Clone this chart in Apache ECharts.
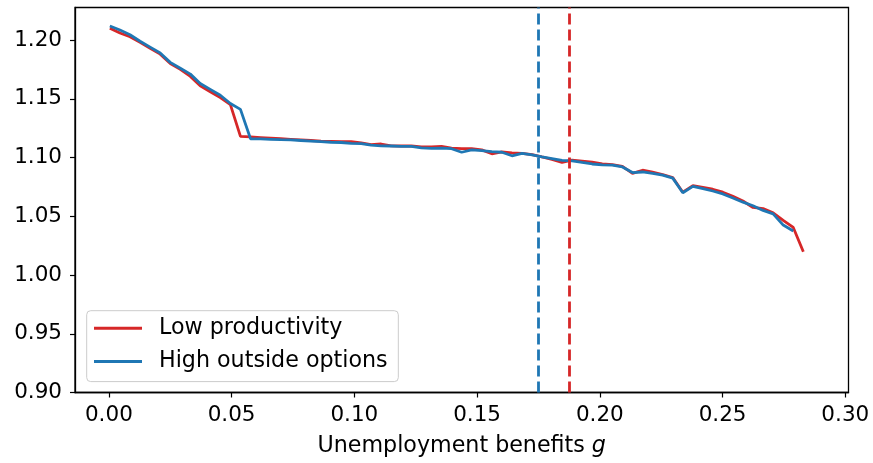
<!DOCTYPE html>
<html>
<head>
<meta charset="utf-8">
<script src="https://cdn.jsdelivr.net/npm/echarts@6/dist/echarts.min.js"></script>
<style>
  html, body { margin: 0; padding: 0; background: #fff; }
  #chart { width: 873px; height: 463px; }
</style>
</head>
<body>
<div id="chart"></div>
<script>
// Unemployment benefit levels g
const g = [
  0.0004, 0.0045, 0.0086, 0.0127, 0.0168, 0.0209, 0.0250, 0.0291, 0.0332, 0.0372,
  0.0413, 0.0454, 0.0495, 0.0536, 0.0577, 0.0618, 0.0659, 0.0700, 0.0741, 0.0782,
  0.0823, 0.0864, 0.0905, 0.0946, 0.0987, 0.1028, 0.1068, 0.1109, 0.1150, 0.1191,
  0.1232, 0.1273, 0.1314, 0.1355, 0.1396, 0.1437, 0.1478, 0.1519, 0.1560, 0.1601,
  0.1642, 0.1683, 0.1724, 0.1764, 0.1805, 0.1846, 0.1887, 0.1928, 0.1969, 0.2010,
  0.2051, 0.2092, 0.2133, 0.2174, 0.2215, 0.2256, 0.2297, 0.2338, 0.2379, 0.2420,
  0.2460, 0.2501, 0.2542, 0.2583, 0.2624, 0.2665, 0.2706, 0.2747, 0.2788, 0.2829
];

// Low productivity scenario
const lowProductivity = [
  1.2100, 1.2060, 1.2028, 1.1980, 1.1930, 1.1880, 1.1800, 1.1750, 1.1690, 1.1610,
  1.1560, 1.1510, 1.1450, 1.1180, 1.1175, 1.1170, 1.1165, 1.1160, 1.1155, 1.1150,
  1.1145, 1.1140, 1.1138, 1.1135, 1.1135, 1.1125, 1.1110, 1.1115, 1.1100, 1.1098,
  1.1098, 1.1090, 1.1090, 1.1095, 1.1080, 1.1075, 1.1075, 1.1065, 1.1032, 1.1048,
  1.1040, 1.1035, 1.1025, 1.1005, 1.0985, 1.0958, 1.0978, 1.0970, 1.0960, 1.0945,
  1.0940, 1.0925, 1.0865, 1.0892, 1.0875, 1.0855, 1.0830, 1.0705, 1.0760, 1.0745,
  1.0730, 1.0705, 1.0670, 1.0630, 1.0575, 1.0565, 1.0530, 1.0465, 1.0405, 1.0198
];

// High outside options scenario
const highOutsideOptions = [
  1.2120, 1.2085, 1.2045, 1.1990, 1.1940, 1.1890, 1.1810, 1.1760, 1.1710, 1.1630,
  1.1580, 1.1530, 1.1460, 1.1410, 1.1160, 1.1158, 1.1155, 1.1152, 1.1150, 1.1145,
  1.1140, 1.1135, 1.1130, 1.1128, 1.1120, 1.1118, 1.1105, 1.1100, 1.1098, 1.1095,
  1.1095, 1.1082, 1.1078, 1.1080, 1.1075, 1.1045, 1.1065, 1.1058, 1.1050, 1.1045,
  1.1015, 1.1036, 1.1022, 1.1005, 1.0990, 1.0975, 1.0972, 1.0958, 1.0945, 1.0938,
  1.0935, 1.0920, 1.0872, 1.0877, 1.0865, 1.0850, 1.0825, 1.0700, 1.0755, 1.0735,
  1.0715, 1.0690, 1.0655, 1.0620, 1.0590, 1.0550, 1.0520, 1.0425, 1.0375
];

// Threshold benefit levels (dashed verticals)
const thresholdHighOutside = 0.175;
const thresholdLowProductivity = 0.1875;

const xTicks = [0, 0.05, 0.10, 0.15, 0.20, 0.25, 0.30];
const yTicks = [0.90, 0.95, 1.00, 1.05, 1.10, 1.15, 1.20];

const RED = '#d62728';
const BLUE = '#1f77b4';
const FONT = 'DejaVu Sans';
const FS_TICK = 21.5;
const FS_TEXT = 22.2;

const toPairs = (xs, ys) => ys.map((y, i) => [xs[i], y]);

const chart = echarts.init(document.getElementById('chart'), null, { renderer: 'canvas' });

chart.setOption({
  animation: false,
  backgroundColor: '#fff',
  grid: {
    left: 75, top: 7.5, right: 24.5, bottom: 70.5,
    show: true, borderColor: '#000', borderWidth: 1.3, backgroundColor: 'transparent'
  },
  xAxis: {
    type: 'value',
    min: -0.0138, max: 0.3013,
    name: '{a|Unemployment benefits }{b|g}',
    nameLocation: 'middle',
    nameGap: 43,
    nameTextStyle: {
      rich: {
        a: { fontFamily: FONT, fontSize: FS_TEXT, color: '#000' },
        b: { fontFamily: FONT, fontSize: FS_TEXT, fontStyle: 'italic', color: '#000' }
      }
    },
    axisLine: { show: true, onZero: false, lineStyle: { color: '#000', width: 1.3 } },
    axisTick: { show: true, customValues: xTicks, length: 5, lineStyle: { color: '#000', width: 1.2 } },
    axisLabel: {
      customValues: xTicks,
      formatter: v => v.toFixed(2),
      fontFamily: FONT, fontSize: FS_TICK, color: '#000', margin: 12
    },
    splitLine: { show: false }
  },
  yAxis: {
    type: 'value',
    min: 0.9, max: 1.2277,
    axisLine: { show: true, onZero: false, lineStyle: { color: '#000', width: 1.3 } },
    axisTick: { show: true, customValues: yTicks, length: 5, lineStyle: { color: '#000', width: 1.2 } },
    axisLabel: {
      customValues: yTicks,
      formatter: v => v.toFixed(2),
      fontFamily: FONT, fontSize: FS_TICK, color: '#000', margin: 13
    },
    splitLine: { show: false }
  },
  legend: {
    orient: 'vertical',
    left: 86.7, top: 310.7,
    padding: [6.5, 10.7, 9, 7.3],
    itemWidth: 48, itemHeight: 3,
    itemGap: 11.4,
    backgroundColor: 'rgba(255,255,255,0.8)',
    borderColor: '#cccccc', borderWidth: 1, borderRadius: 4,
    textStyle: { fontFamily: FONT, fontSize: FS_TEXT, color: '#000', lineHeight: 22, padding: [0, 0, 0, 12] },
    data: [
      { name: 'Low productivity', icon: 'rect' },
      { name: 'High outside options', icon: 'rect' }
    ]
  },
  series: [
    {
      name: 'Low productivity', type: 'line',
      data: toPairs(g, lowProductivity),
      symbol: 'none', showSymbol: false,
      lineStyle: { color: RED, width: 2.8 }, itemStyle: { color: RED },
      z: 2
    },
    {
      name: 'High outside options', type: 'line',
      data: toPairs(g, highOutsideOptions),
      symbol: 'none', showSymbol: false,
      lineStyle: { color: BLUE, width: 2.8 }, itemStyle: { color: BLUE },
      z: 3
    },
    {
      name: 'thresholds', type: 'line', data: [], z: 4,
      markLine: {
        silent: true, symbol: 'none', precision: 4, label: { show: false },
        data: [
          { xAxis: thresholdHighOutside, lineStyle: { color: BLUE, width: 2.8, type: [11, 5] } },
          { xAxis: thresholdLowProductivity, lineStyle: { color: RED, width: 2.8, type: [11, 5] } }
        ]
      }
    }
  ]
});
</script>
</body>
</html>
